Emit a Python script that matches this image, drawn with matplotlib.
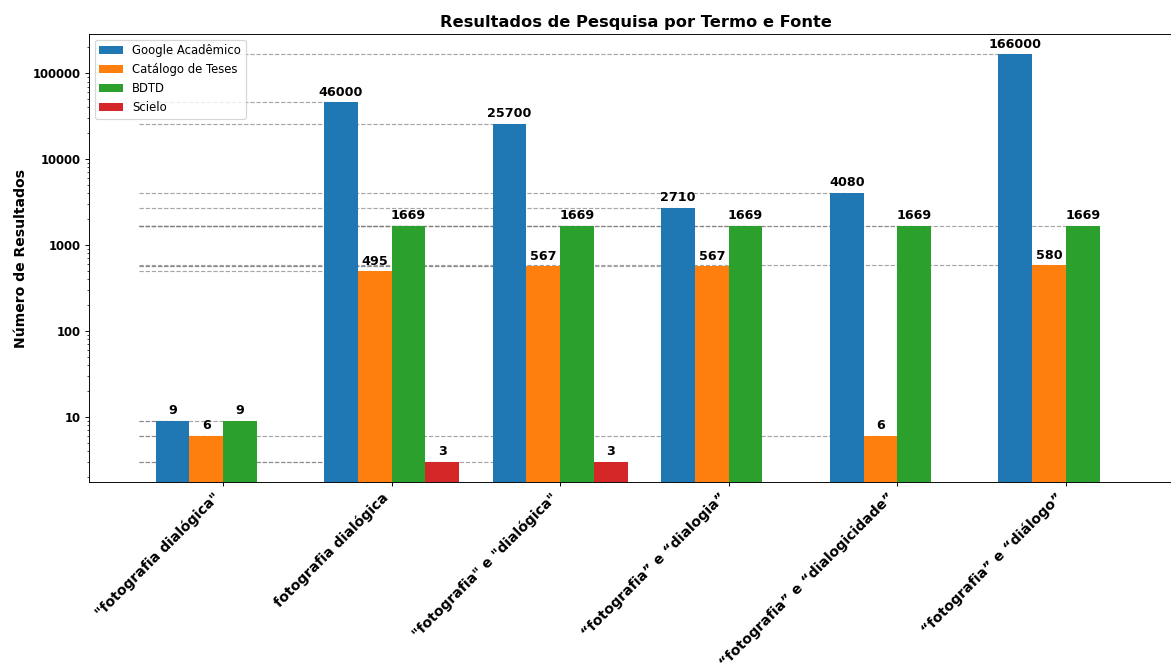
import matplotlib
matplotlib.use("Agg")
import matplotlib.pyplot as plt
import numpy as np
from matplotlib.ticker import FuncFormatter, NullFormatter, LogLocator

categories = ['"fotografia dialógica"', 'fotografia dialógica',
              '"fotografia" e "dialógica"', '“fotografia” e “dialogia”',
              '“fotografia” e “dialogicidade”', '“fotografia” e “diálogo”']
sources = ['Google Acadêmico', 'Catálogo de Teses', 'BDTD', 'Scielo']
google = [9, 46000, 25700, 2710, 4080, 166000]
catalogo = [6, 495, 567, 567, 6, 580]
bdtd = [9, 1669, 1669, 1669, 1669, 1669]
scielo = [0, 3, 3, 0, 0, 0]
series = [google, catalogo, bdtd, scielo]
colors = ['#1f77b4', '#ff7f0e', '#2ca02c', '#d62728']

DPI = 83.64
fig = plt.figure(figsize=(1171 / DPI, 668 / DPI), dpi=DPI)
ax = fig.add_axes([89 / 1171, 1 - 482 / 668, (1183 - 89) / 1171, (482 - 34) / 668])

x = np.arange(len(categories))
w = 0.2
for i, (name, vals, c) in enumerate(zip(sources, series, colors)):
    pos = x + (i - 1.5) * w
    vals = np.array(vals, dtype=float)
    ax.bar(pos, np.where(vals > 0, vals, np.nan), w, label=name, color=c, zorder=3)
    for p, v in zip(pos, vals):
        if v > 0:
            ax.hlines(v, -0.5, p, colors='gray', linestyles='--', linewidth=1, alpha=0.7, zorder=1)
            ax.annotate(f'{int(v)}', (p, v), xytext=(0, 3), textcoords='offset points',
                        ha='center', va='bottom', fontsize=11, fontweight='bold', zorder=4)

ax.set_yscale('log')
ax.set_xlim(-0.795, 5.695)
ax.set_ylim(10 ** 0.240, 10 ** 5.457)
ax.yaxis.set_major_locator(LogLocator(base=10))
ax.yaxis.set_major_formatter(FuncFormatter(lambda v, _: f'{int(round(v))}'))
ax.yaxis.set_minor_formatter(NullFormatter())
for lab in ax.get_yticklabels():
    lab.set_fontweight('bold')
ax.tick_params(axis='y', labelsize=10)
ax.set_xticks(x)
ax.set_xticklabels(categories, rotation=45, ha='right', fontsize=12, fontweight='bold')
ax.set_ylabel('Número de Resultados', fontsize=12, fontweight='bold')
ax.set_title('Resultados de Pesquisa por Termo e Fonte', fontsize=14, fontweight='bold')
ax.legend(loc='upper left')
for lab in ax.get_yticklabels():
    lab.set_fontweight('bold')

fig.savefig('out.png', dpi=DPI)
